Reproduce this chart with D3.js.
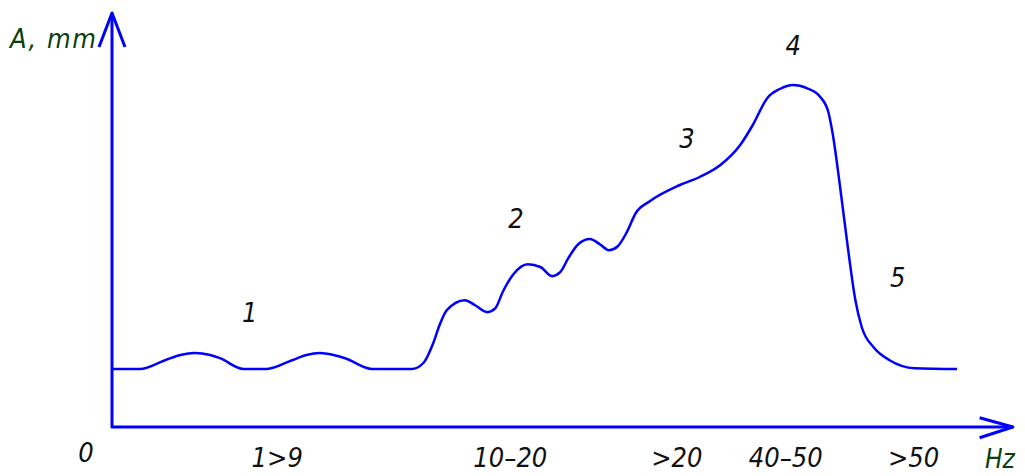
<!DOCTYPE html>
<html>
<head>
<meta charset="utf-8">
<script src="https://cdn.jsdelivr.net/npm/d3@7"></script>
<style>
  body { margin: 0; background: #fff; }
  svg text { font-family: "Liberation Sans Narrow", "DejaVu Sans Condensed", sans-serif; font-style: italic; }
</style>
</head>
<body>
<svg width="1025" height="476"></svg>
<script>
// curve, in chart units (x: 0..100, y: 0..100)
var curveX = [0, 3.1, 5.9, 7.6, 9.2, 10.9, 12.0, 14.6, 17.2, 20.0, 21.6, 23.1, 24.6, 25.9, 28.9, 31.0, 33.3,
  34.6, 35.7, 36.4, 37.2, 39.2, 40.3, 41.7, 42.6, 43.4, 44.6, 46.2, 47.6, 48.9, 49.8, 50.7, 51.8, 53.1,
  54.2, 55.2, 56.2, 57.2, 58.2, 59.8, 63.1, 65.3, 67.6, 69.8, 71.2, 72.8, 74.2, 75.7, 77.2, 78.7, 79.6,
  80.1, 80.9, 81.8, 82.6, 83.3, 84.6, 86.4, 89.2, 93.9];
var curveY = [14.5, 14.5, 16.7, 18, 18.5, 18, 17.2, 14.5, 14.5, 16.7, 18, 18.5, 18, 17.2, 14.5, 14.5, 14.5,
  16, 21, 25.5, 29.2, 31.7, 30.5, 28.7, 29.7, 33.7, 38.2, 40.7, 40, 37.7, 38.7, 42.2, 45.7, 47,
  45.7, 44.2, 45.2, 48.7, 53.5, 56.5, 60.5, 62.5, 65.5, 70.5, 75.5, 82.2, 84.5, 85.5, 84.7, 82.5, 78.7,
  73, 60, 44.2, 31.7, 25, 20, 16.7, 14.7, 14.5];

var tickLabels = ["1>9", "10\u201320", ">20", "40\u201350", ">50"];
var tickValues = [18.3, 44.2, 62.7, 74.8, 89];

var zoneLabels = ["1", "2", "3", "4", "5"];
var zoneX = [15.3, 44.9, 63.9, 75.7, 87.3];
var zoneY = [26.3, 49.8, 69.8, 93, 35];

var svg = d3.select("svg");
var x = d3.scaleLinear().domain([0, 100]).range([112, 1012]);
var y = d3.scaleLinear().domain([0, 100]).range([427, 27]);
var blue = "#0000ff";
var fs = 27;

// axes with open arrow heads
var axes = svg.append("g").attr("fill", "none").attr("stroke", blue).attr("stroke-width", 3)
  .attr("stroke-linejoin", "round");
axes.append("path").attr("d", d3.line()([[x(0), y(103.5)], [x(0), y(0)], [x(100.1), y(0)]]));
axes.append("path").attr("d", d3.line()([[x(0) - 13, y(95)], [x(0), y(103.5)], [x(0) + 13, y(95)]]));
axes.append("path").attr("d", d3.line()([[x(96.4), y(2.3)], [x(100.1), y(0)], [x(96.4), y(-2.7)]]));

// response curve
var pts = curveX.map(function(d, i) { return [d, curveY[i]]; });
svg.append("path")
  .attr("d", d3.line().x(function(d) { return x(d[0]); }).y(function(d) { return y(d[1]); })
    .curve(d3.curveMonotoneX)(pts))
  .attr("fill", "none").attr("stroke", blue).attr("stroke-width", 2.5);

// tick labels under the axis
var xAxis = d3.axisBottom(x).tickValues(tickValues).tickSize(0)
  .tickFormat(function(d, i) { return tickLabels[i]; });
var gx = svg.append("g").attr("transform", "translate(0," + y(0) + ")").call(xAxis);
gx.select(".domain").remove();
gx.attr("font-family", null);
gx.selectAll("text").attr("font-size", fs).attr("fill", "#111").attr("dy", 0).attr("y", 40);

svg.append("text").attr("x", x(-2.9)).attr("y", 462).attr("text-anchor", "middle")
  .attr("font-size", fs).attr("fill", "#111").text("0");

// zone numbers
svg.selectAll(".zone").data(zoneLabels).enter().append("text")
  .attr("class", "zone")
  .attr("x", function(d, i) { return x(zoneX[i]); })
  .attr("y", function(d, i) { return y(zoneY[i]); })
  .attr("text-anchor", "middle").attr("font-size", fs).attr("fill", "#111")
  .text(function(d) { return d; });

// axis titles
svg.append("text").attr("x", 10).attr("y", 48).attr("font-size", fs).attr("letter-spacing", 1.5)
  .attr("fill", "#0b400b").text("A, mm");
svg.append("text").attr("x", 985).attr("y", 468).attr("font-size", 26).attr("fill", "#0b400b").text("Hz");
</script>
</body>
</html>
